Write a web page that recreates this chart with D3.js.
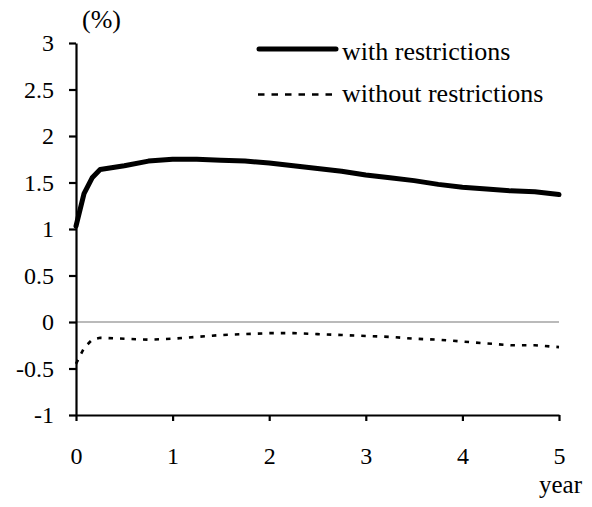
<!DOCTYPE html>
<html>
<head>
<meta charset="utf-8">
<script src="https://cdn.jsdelivr.net/npm/d3@7"></script>
<style>
  body { margin: 0; background: #fff; }
  svg text { font-family: 'Liberation Serif', 'Times New Roman', 'DejaVu Serif', serif; fill: #000; }
</style>
</head>
<body>
<svg id="chart"></svg>
<script>
// horizon in years
const years = [0, 0.083, 0.167, 0.25, 0.5, 0.75, 1, 1.25, 1.5, 1.75, 2, 2.25, 2.5, 2.75,
               3, 3.25, 3.5, 3.75, 4, 4.25, 4.5, 4.75, 5];
const withRestrictions = [1.03, 1.38, 1.55, 1.64, 1.68, 1.73, 1.75, 1.75, 1.74, 1.73, 1.71, 1.68,
                          1.65, 1.62, 1.58, 1.55, 1.52, 1.48, 1.45, 1.43, 1.41, 1.40, 1.37];
const withoutRestrictions = [-0.45, -0.28, -0.19, -0.17, -0.18, -0.19, -0.18, -0.16, -0.14, -0.13,
                             -0.12, -0.12, -0.13, -0.14, -0.15, -0.16, -0.18, -0.19, -0.21, -0.23,
                             -0.25, -0.25, -0.27];
const xTicks = [0, 1, 2, 3, 4, 5];
const yTicks = [-1, -0.5, 0, 0.5, 1, 1.5, 2, 2.5, 3];
const seriesNames = ["with restrictions", "without restrictions"];

const width = 592, height = 507;
const margin = {left: 76, right: 33, top: 43, bottom: 92};
const FONT = "'Liberation Serif', 'Times New Roman', 'DejaVu Serif', serif";

const svg = d3.select("#chart")
    .attr("width", width)
    .attr("height", height);

const x = d3.scaleLinear().domain([0, 5]).range([margin.left, width - margin.right]);
const y = d3.scaleLinear().domain([-1, 3]).range([height - margin.bottom, margin.top]);

// zero line
svg.append("line")
    .attr("x1", x(0)).attr("x2", x(5))
    .attr("y1", y(0)).attr("y2", y(0))
    .attr("stroke", "#777").attr("stroke-width", 1.2);

const xAxis = d3.axisBottom(x).tickValues(xTicks).tickFormat(d3.format("d"))
    .tickSizeOuter(0).tickSizeInner(6).tickPadding(26);
const yAxis = d3.axisLeft(y).tickValues(yTicks).tickFormat(d => String(d))
    .tickSizeOuter(0).tickSizeInner(7).tickPadding(15);

const gx = svg.append("g").attr("transform", `translate(0,${y(-1)})`).call(xAxis);
const gy = svg.append("g").attr("transform", `translate(${x(0)},0)`).call(yAxis);

[gx, gy].forEach(g => {
  g.attr("font-family", FONT).attr("font-size", 24);
  g.selectAll("path.domain").attr("stroke", "#000").attr("stroke-width", 2.2);
  g.selectAll(".tick line").attr("stroke", "#000").attr("stroke-width", 2.2);
  g.selectAll(".tick text").attr("fill", "#000");
});

const line = d3.line()
    .x((d, i) => x(years[i]))
    .y(d => y(d));

svg.append("path")
    .attr("d", line(withoutRestrictions))
    .attr("fill", "none").attr("stroke", "#000")
    .attr("stroke-width", 2.6).attr("stroke-dasharray", "4.5,7");

svg.append("path")
    .attr("d", line(withRestrictions))
    .attr("fill", "none").attr("stroke", "#000")
    .attr("stroke-width", 5).attr("stroke-linejoin", "round").attr("stroke-linecap", "round");

// legend
const legend = svg.append("g").attr("font-family", FONT).attr("font-size", 26);
legend.append("line")
    .attr("x1", 259).attr("x2", 336).attr("y1", 49).attr("y2", 49)
    .attr("stroke", "#000").attr("stroke-width", 5).attr("stroke-linecap", "round");
legend.append("line")
    .attr("x1", 258).attr("x2", 338).attr("y1", 94.5).attr("y2", 94.5)
    .attr("stroke", "#000").attr("stroke-width", 2.6).attr("stroke-dasharray", "6.5,7");
legend.selectAll("text.lab")
    .data(seriesNames)
    .join("text")
    .attr("class", "lab")
    .attr("x", 342)
    .attr("y", (d, i) => 60 + i * 42)
    .text(d => d);

svg.append("text")
    .attr("x", 82).attr("y", 28)
    .attr("font-family", FONT).attr("font-size", 26)
    .text("(%)");

svg.append("text")
    .attr("x", 582).attr("y", 493)
    .attr("text-anchor", "end")
    .attr("font-family", FONT).attr("font-size", 25)
    .text("year");
</script>
</body>
</html>
